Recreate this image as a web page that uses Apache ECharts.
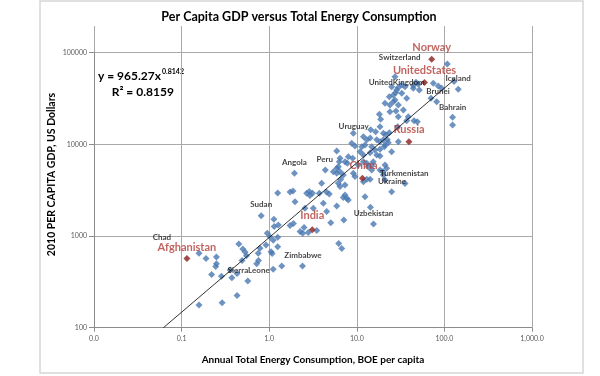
<!DOCTYPE html>
<html><head><meta charset="utf-8">
<script src="https://cdn.jsdelivr.net/npm/echarts@6/dist/echarts.min.js"></script>
<style>html,body{margin:0;padding:0;background:#fff}#c{width:600px;height:376px}</style>
</head><body><div id="c"></div>
<script>
// ---- data (x: BOE per capita, y: GDP per capita USD) ----
const xTicks = [0.01, 0.1, 1, 10, 100, 1000];
const yTicks = [100, 1000, 10000, 100000];

const bluePoints = [
 [0.158,650],[0.19,570],[0.25,590],[0.25,500],[0.245,465],[0.22,380],[0.285,365],[0.158,177],[0.29,187],[0.43,224],
 [0.375,350],[0.43,390],[0.45,820],[0.50,720],[0.53,670],[0.55,610],[0.49,540],[0.36,425],[0.57,323],[0.72,500],
 [0.755,540],[0.81,1660],[0.92,800],[0.95,1070],[1.05,675],[1.08,645],[1.11,435],[0.785,735],[0.75,650],
 [1.14,1270],[1.13,1520],[1.27,1320],[1.25,970],[1.25,765],[1.39,470],[1.25,2950],[1.73,3030],[1.87,3100],[1.97,2370],
 [1.73,1300],[1.89,1370],[2.25,1120],[2.41,1070],[2.79,1090],[2.5,1240],[2.68,2930],[2.87,3060],[3.12,2930],[2.92,2760],
 [3.19,2010],[2.4,470],[3.49,1150],[3.97,3770],[4.51,3030],[4.85,2880],[4.53,1850],[5.04,1400],[5.9,2130],[6.21,830],
 [6.73,730],[1.94,4840],[5.9,8470],[6.43,7050],[6.31,6480],[8.0,7340],[4.37,5260],[5.39,5040],[5.9,5490],[6.15,5710],
 [7.79,6220],[6.55,4160],[6.15,3770],[3.73,2930],[4.15,2280],[7.11,1500],[2.56,2010],[1.02,980],[1.11,900],
 [6.43,5040],[5.9,4840],[7.01,4640],[6.43,3460],[7.33,3610],[7.33,2810],[7.67,2580],[7.01,2640],[8.0,2480],
 [8.98,7050],[7.33,6480],[8.75,10300],[9.53,9610],[9.12,13200],[11.4,9440],[12.4,9850],[10.9,8320],[11.9,7660],[14.2,8120],
 [11.9,12100],[13.0,11200],[14.2,11700],[14.4,14400],[16.4,13700],[14.8,9440],[16.1,8690],[16.9,11200],[18.4,10700],[20.1,11200],
 [22.3,11200],[22.9,10400],[21.0,9850],[18.4,8850],[20.6,9440],[16.9,7660],[18.4,7470],[25.0,8320],[20.1,13200],[21.5,12700],
 [23.5,13400],[29.8,10700],[11.9,6480],[13.0,6220],[15.4,6480],[14.8,5960],[13.5,5710],[21.0,5960],[21.9,5490],[10.4,5960],
 [9.12,4840],[9.53,4450],[11.9,3920],[13.0,4160],[14.2,4160],[14.8,5260],[18.4,5260],[20.1,4640],[21.0,4090],[19.8,5040],
 [35.5,3750],[25.0,3050],[12.4,2690],[14.3,2060],[15.5,1350],
 [18.1,21300],[18.7,18800],[21.0,28100],[23.9,26900],[26.1,29200],[23.5,33100],[26.1,34600],[27.8,36600],[29.8,26900],[37.1,31800],
 [28.0,23100],[29.8,20000],[38.7,20000],[37.1,18100],[49.1,17700],[29.3,15600],[18.4,15600],[27.3,30500],[45.0,18100],[23.9,22700],
 [34.0,23700],[108,75300],[47.4,47500],[50.4,45200],[44.2,43900],[32.6,44500],[35.5,42600],[29.8,41700],[27.3,54700],[74.7,46400],
 [85.1,43300],[93.1,40900],[129,48500],[144,39900],[70.3,31800],[81.7,29200],[124,19800],[124,16300],[25.0,42600],[28.5,39200],
 [32.6,36100],[44.2,40900],[51.7,39200]
];

const redNames = ['Norway','UnitedStates','Russia','China','India','Afghanistan'];
const redX = [71.6, 59.3, 39.4, 11.6, 3.1, 0.115];
const redY = [84700, 47300, 10700, 4270, 1170, 570];

const blackNames = ['Switzerland','UnitedKingdom','Iceland','Brunei','Bahrain','Uruguay','Turkmenistan','Ukraine','Uzbekistan','Peru','Angola','Sudan','Zimbabwe','SierraLeone','Chad'];
const blackX = [71.6, 32.6, 129, 70.3, 124, 14.4, 19.8, 35.5, 15.5, 4.37, 1.94, 0.81, 2.4, 0.36, 0.115];
const blackY = [84700, 44500, 48500, 31800, 19800, 14400, 5040, 3750, 1350, 5260, 4840, 1660, 470, 425, 570];

const trendX = [0.062, 132];
const trendY = [100, 51500];

// ---- layout (label offsets in px) ----
const redOffsets = {Norway:[0,-12],UnitedStates:[0,-12],Russia:[0,-12.5],China:[1,-13],India:[0,-14],Afghanistan:[0,-11]};
const blackOffsets = {Switzerland:[-32,-2],UnitedKingdom:[-5,-2.5],Iceland:[4,-3],Brunei:[7,-6.5],Bahrain:[0,-10],
  Uruguay:[-17,-3],Turkmenistan:[21.5,1.6],Ukraine:[-13,-1.8],Uzbekistan:[0,-11],Peru:[-0.6,-10.7],Angola:[0,-10.6],
  Sudan:[0,-11],Zimbabwe:[0.5,-11],SierraLeone:[18.3,0],Chad:[-25,-21]};

const FONT = 'Lato';
const AX = '#8c8c8c';
const GRIDC = '#a9a9a9';
const fmtX = v => (Math.round(v*1000)/1000).toLocaleString('en-US',{minimumFractionDigits:1,maximumFractionDigits:1});

const chart = echarts.init(document.getElementById('c'), null, {renderer:'canvas'});
chart.setOption({
  animation:false,
  backgroundColor:'#fff',
  grid:[
    {left:94,right:68,top:26,bottom:48.3},
    {left:94,right:68,top:52.7,bottom:48.3}
  ],
  xAxis:[
    {gridIndex:0,type:'log',logBase:10,min:xTicks[0],max:xTicks[xTicks.length-1],
     axisLine:{show:true,lineStyle:{color:AX,width:1}},
     axisTick:{show:true,length:4,lineStyle:{color:AX}},
     axisLabel:{formatter:fmtX,fontSize:7,color:'#595959',margin:8,fontFamily:FONT},
     splitLine:{show:true,lineStyle:{color:GRIDC,width:1}},
     name:'Annual Total Energy Consumption, BOE per capita',nameLocation:'middle',nameGap:27,
     nameTextStyle:{fontFamily:FONT,fontWeight:'bold',fontSize:10,color:'#000'}},
    {gridIndex:1,type:'log',logBase:10,min:xTicks[0],max:xTicks[xTicks.length-1],show:false}
  ],
  yAxis:[
    {gridIndex:0,type:'value',min:0,max:1,show:false},
    {gridIndex:1,type:'log',logBase:10,min:yTicks[0],max:yTicks[yTicks.length-1],
     axisLine:{show:true,lineStyle:{color:AX,width:1}},
     axisTick:{show:true,length:5,lineStyle:{color:AX}},
     axisLabel:{formatter:v=>String(Math.round(v)),fontSize:7,color:'#595959',margin:7,fontFamily:FONT},
     splitLine:{show:true,lineStyle:{color:GRIDC,width:1}}}
  ],
  series:[
    {type:'scatter',xAxisIndex:1,yAxisIndex:1,symbol:'diamond',symbolSize:7,z:2,
     itemStyle:{color:'#4a78b2'},emphasis:{disabled:true},data:bluePoints},
    {type:'scatter',xAxisIndex:1,yAxisIndex:1,symbol:'diamond',symbolSize:7,z:3,
     itemStyle:{color:'#8b1e1e'},emphasis:{disabled:true},
     label:{show:true,position:'inside',formatter:'{b}',fontFamily:FONT,fontWeight:'bold',fontSize:11,color:'#b23e3a'},
     data:redNames.map((n,i)=>({name:n,value:[redX[i],redY[i]],label:{offset:redOffsets[n]}}))},
    {type:'line',xAxisIndex:1,yAxisIndex:1,symbol:'none',z:4,silent:true,
     lineStyle:{color:'#000',width:0.8},data:trendX.map((x,i)=>[x,trendY[i]])},
    {type:'scatter',xAxisIndex:1,yAxisIndex:1,symbolSize:1,z:5,silent:true,
     itemStyle:{color:'rgba(0,0,0,0)'},
     label:{show:true,position:'inside',formatter:'{b}',fontFamily:FONT,fontWeight:'bold',fontSize:8,color:'#111'},
     data:blackNames.map((n,i)=>({name:n,value:[blackX[i],blackY[i]],label:{offset:blackOffsets[n]}}))}
  ],
  graphic:[
    {type:'rect',shape:{x:40,y:1,width:543,height:372},style:{fill:'none',stroke:'#d6d6d6',lineWidth:1.5},z:0,silent:true},
    {type:'text',x:299,y:17,style:{text:'Per Capita GDP versus Total Energy Consumption',font:'bold 12.5px Lato',fill:'#000',textAlign:'center',textVerticalAlign:'middle'}},
    {type:'text',x:51.7,y:174.5,rotation:Math.PI/2,style:{text:'2010 PER CAPITA GDP, US Dollars',font:'bold 10.5px Lato',fill:'#000',textAlign:'center',textVerticalAlign:'middle'}},
    {type:'text',x:98,y:76,style:{text:'y = 965.27x',font:'bold 12px Lato',fill:'#000',textAlign:'left',textVerticalAlign:'middle'}},
    {type:'text',x:162,y:71.5,style:{text:'0.8142',font:'bold 7px Lato',fill:'#000',textAlign:'left',textVerticalAlign:'middle'}},
    {type:'text',x:111.7,y:91.7,style:{text:'R\u00B2 = 0.8159',font:'bold 12px Lato',fill:'#000',textAlign:'left',textVerticalAlign:'middle'}}
  ]
});
</script>
</body></html>
